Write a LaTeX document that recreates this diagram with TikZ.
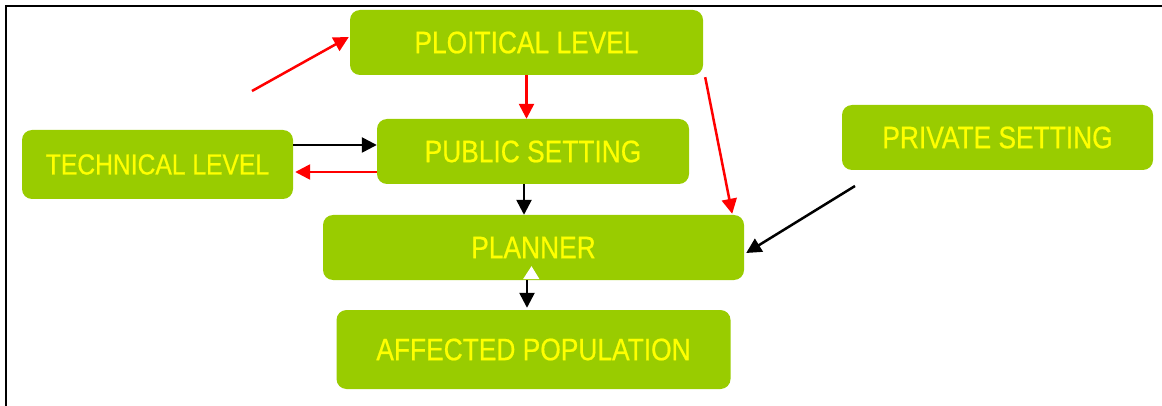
\documentclass[tikz,border=0pt]{standalone}
\usepackage{fontspec}
\usetikzlibrary{arrows.meta,calc}
\newfontfamily\boxfont{Liberation Sans}[FakeStretch=0.85,FakeBold=0.6]
\definecolor{boxgreen}{HTML}{99CC00}
\definecolor{boxtext}{HTML}{FFFF00}
\definecolor{linkred}{HTML}{FF0000}
\begin{document}
\begin{tikzpicture}[x=1pt,y=-1pt,
  levelbox/.style={rectangle, rounded corners=10pt, fill=boxgreen, draw=none,
    inner sep=0pt, text=boxtext, font=\boxfont\fontsize{31}{36}\selectfont},
  blackarrow/.style={draw=black, line width=2.5pt, -{Triangle[length=15pt,width=15pt]}},
  redarrow/.style={draw=linkred, line width=2.5pt, -{Triangle[length=15pt,width=15pt]}}]
\useasboundingbox (0,0) rectangle (1162,406);
% partial frame: left and top edges
\draw[line width=2pt] (6,406) -- (6,6.5) -- (1162,6.5);

% boxes
\node[levelbox, minimum width=353pt, minimum height=65pt] (pol) at (526.5,42.5) {PLOITICAL LEVEL};
\node[levelbox, minimum width=271pt, minimum height=69pt,
      font=\boxfont\fontsize{29}{34}\selectfont] (tech) at (157.5,164.5) {TECHNICAL LEVEL};
\node[levelbox, minimum width=312pt, minimum height=65pt] (pub) at (533,151.5) {PUBLIC SETTING};
\node[levelbox, minimum width=311pt, minimum height=65pt] (priv) at (997.5,137.5) {PRIVATE SETTING};
\node[levelbox, minimum width=421pt, minimum height=65pt] (plan) at (533.5,247.5) {PLANNER};
\node[levelbox, minimum width=394pt, minimum height=79pt] (aff) at (533.5,349.5) {AFFECTED POPULATION};

% free starting points
\coordinate (techin) at (252,91);
\coordinate (privout) at (855,186);

% red links
\draw[redarrow] (techin) -- ($(pol.west)+(-1,-5.5)$);
\draw[redarrow] (pol.south) -- (pol.south |- pub.north);
\draw[redarrow] ($(pol.south east)+(2,2)$) -- ($(plan.north east)+(-12,-1)$);
\coordinate (pubback) at ($(pub.west)+(0,20.5)$);
\draw[redarrow] (pubback) -- ($(tech.east |- pubback)+(2,0)$);

% black links
\coordinate (techout) at ($(tech.east)+(0,-19.5)$);
\draw[blackarrow] (techout) -- (pub.west |- techout);
\coordinate (pubdown) at ($(pub.south)+(-9,0)$);
\draw[blackarrow] (pubdown) -- (pubdown |- plan.north);
\draw[blackarrow] (privout) -- ($(plan.east)+(2,5.5)$);
\coordinate (plandown) at ($(plan.south)+(-6.5,0)$);
\draw[blackarrow] (plandown) -- ($(plandown |- aff.north)+(0,-2)$);

% white tip at the foot of the planner box
\fill[white] ($(plan.south)+(-10.5,-1)$) -- ($(plan.south)+(-2,-14)$) -- ($(plan.south)+(6,-1)$) -- cycle;
\end{tikzpicture}
\end{document}
